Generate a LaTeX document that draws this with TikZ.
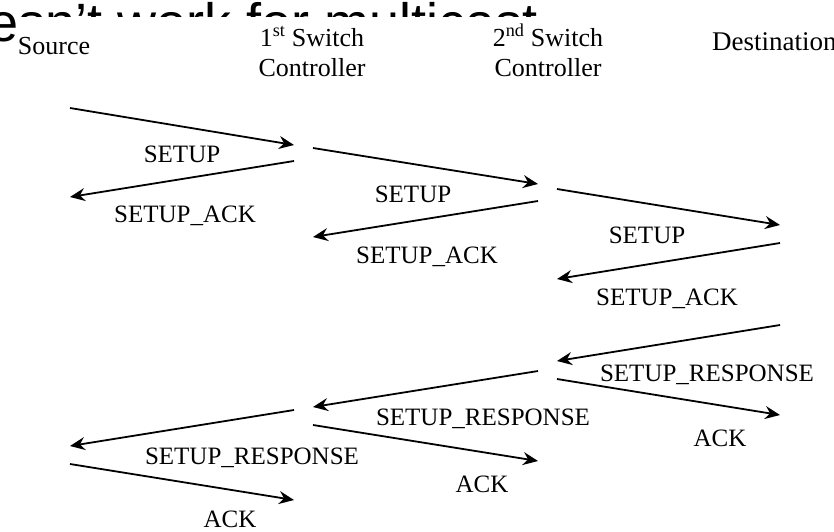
\documentclass[tikz,border=0pt]{standalone}
\usepackage{fontspec}
\setmainfont{Liberation Serif}
\newfontfamily\titlefont{Liberation Sans}
\usetikzlibrary{arrows.meta}
\begin{document}
\begin{tikzpicture}[x=1pt,y=-1pt,
  msg/.style={line width=1.8pt,-{Stealth[length=15pt,width=13pt,inset=5pt]}},
  lbl/.style={font=\fontsize{25}{25}\selectfont,anchor=base,inner sep=0pt},
  head/.style={font=\fontsize{26}{26}\selectfont,anchor=base,inner sep=0pt}]
\useasboundingbox (0,0) rectangle (834,531);

% slide title, mostly hidden behind the figure
\node[anchor=base west,inner sep=0pt,font=\titlefont\fontsize{54}{54}\selectfont]
  (title) at (-72,41) {doesn’t work for multicast};
\fill[white] (17,17) rectangle (834,531);

% column headings
\node[head] (hsrc) at (54,54) {Source};
\node[head] (hsw1a) at (312,46) {1\textsuperscript{st} Switch};
\node[head] (hsw1b) at (312,76) {Controller};
\node[head] (hsw2a) at (548,46) {2\textsuperscript{nd} Switch};
\node[head] (hsw2b) at (548,76) {Controller};
\node[head,anchor=base west,font=\fontsize{27}{27}\selectfont] (hdst) at (712,50) {Destination};

% end points of the messages
\coordinate (m1s) at (70,108);  \coordinate (m1e) at (294,145);
\coordinate (m2s) at (294,161); \coordinate (m2e) at (70,197);
\coordinate (m3s) at (313,148); \coordinate (m3e) at (538,184);
\coordinate (m4s) at (538,201); \coordinate (m4e) at (313,237);
\coordinate (m5s) at (557,189); \coordinate (m5e) at (780,225);
\coordinate (m6s) at (780,243); \coordinate (m6e) at (557,279);
\coordinate (m7s) at (780,325); \coordinate (m7e) at (557,361);
\coordinate (m8s) at (557,379); \coordinate (m8e) at (780,415);
\coordinate (m9s) at (538,371); \coordinate (m9e) at (313,407);
\coordinate (m10s) at (313,425); \coordinate (m10e) at (538,461);
\coordinate (m11s) at (294,410); \coordinate (m11e) at (70,446);
\coordinate (m12s) at (70,464); \coordinate (m12e) at (294,500);

% messages
\foreach \i in {1,...,12} \draw[msg] (m\i s) -- (m\i e);

% message labels
\node[lbl] (l1) at (182,162) {SETUP};
\node[lbl] (l2) at (185,222) {SETUP\_ACK};
\node[lbl] (l3) at (413,202) {SETUP};
\node[lbl] (l4) at (427,263) {SETUP\_ACK};
\node[lbl] (l5) at (647,243) {SETUP};
\node[lbl] (l6) at (667,305) {SETUP\_ACK};
\node[lbl] (l7) at (707,381) {SETUP\_RESPONSE};
\node[lbl] (l8) at (720,446) {ACK};
\node[lbl] (l9) at (483,425) {SETUP\_RESPONSE};
\node[lbl] (l10) at (482,492) {ACK};
\node[lbl] (l11) at (252,464) {SETUP\_RESPONSE};
\node[lbl] (l12) at (230,527) {ACK};
\end{tikzpicture}
\end{document}
